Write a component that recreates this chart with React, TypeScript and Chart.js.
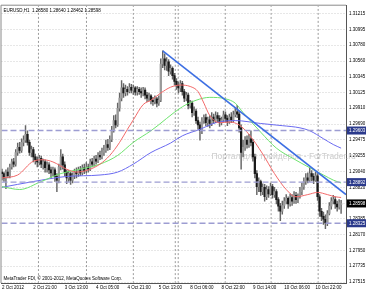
import React, { useEffect, useRef } from "react";
import { Chart, registerables } from "chart.js";

Chart.register(...registerables);

const headerText = "EURUSD,H1  1.28580 1.28640 1.28462 1.28598";
const footerText = "MetaTrader FDI, \u00a9 2001-2012, MetaQuotes Software Corp.";
const watermarkText = "Портал для трейдеров - ForTrader.ru";

const timeLabels = ["2 Oct 2012", "2 Oct 21:00", "3 Oct 13:00", "4 Oct 05:00", "4 Oct 21:00", "5 Oct 13:00", "8 Oct 06:00", "8 Oct 22:00", "9 Oct 14:00", "10 Oct 06:00", "10 Oct 22:00"];
const timeLabelBars = [0, 16, 32, 48, 64, 80, 96, 112, 128, 144, 160];

const priceTicks = [1.31215, 1.30995, 1.3078, 1.3056, 1.30345, 1.30125, 1.2991, 1.2969, 1.29475, 1.29255, 1.2904, 1.2882, 1.286, 1.28385, 1.2817, 1.2795, 1.27735, 1.27515];

const opens = [
  1.2903, 1.2901, 1.2895, 1.2903, 1.2898, 1.2910, 1.2917, 1.2914, 1.2930, 1.2937,
  1.2933, 1.2944, 1.2947, 1.2955, 1.2944, 1.2930, 1.2934, 1.2924, 1.2920, 1.2917,
  1.2922, 1.2914, 1.2917, 1.2909, 1.2913, 1.2906, 1.2902, 1.2906, 1.2897, 1.2892,
  1.2910, 1.2924, 1.2913, 1.2903, 1.2895, 1.2901, 1.2892, 1.2898, 1.2903, 1.2901,
  1.2906, 1.2902, 1.2909, 1.2905, 1.2910, 1.2907, 1.2917, 1.2914, 1.2921, 1.2918,
  1.2926, 1.2924, 1.2930, 1.2933, 1.2941, 1.2937, 1.2948, 1.2960, 1.2974, 1.2968,
  1.2991, 1.3005, 1.3019, 1.3012, 1.3017, 1.3014, 1.3020, 1.3016, 1.3019, 1.3013,
  1.3017, 1.3014, 1.3012, 1.3016, 1.3009, 1.3005, 1.3008, 1.3002, 1.3000, 1.3004,
  1.2998, 1.3002, 1.3052, 1.3059, 1.3050, 1.3055, 1.3042, 1.3046, 1.3036, 1.3028,
  1.3023, 1.3019, 1.3025, 1.3014, 1.3005, 1.3009, 1.2995, 1.2998, 1.2985, 1.2987,
  1.2974, 1.2968, 1.2960, 1.2974, 1.2978, 1.2971, 1.2975, 1.2970, 1.2979, 1.2974,
  1.2981, 1.2977, 1.2971, 1.2975, 1.2982, 1.2977, 1.2972, 1.2979, 1.2975, 1.2982,
  1.2986, 1.2983, 1.2964, 1.2930, 1.2937, 1.2947, 1.2941, 1.2949, 1.2944, 1.2924,
  1.2901, 1.2883, 1.2890, 1.2876, 1.2882, 1.2869, 1.2879, 1.2873, 1.2883, 1.2872,
  1.2876, 1.2865, 1.2856, 1.2849, 1.2857, 1.2863, 1.2867, 1.2859, 1.2868, 1.2863,
  1.2871, 1.2865, 1.2869, 1.2876, 1.2883, 1.2890, 1.2895, 1.2892, 1.2901, 1.2897,
  1.2892, 1.2898, 1.2869, 1.2849, 1.2842, 1.2838, 1.2833, 1.2846, 1.2856, 1.2863,
  1.2865, 1.2859, 1.2855, 1.2858,
];

const highs = [
  1.2907, 1.2903, 1.2906, 1.2909, 1.2914, 1.2921, 1.2922, 1.2934, 1.2943, 1.2944,
  1.2949, 1.2953, 1.2967, 1.2960, 1.2947, 1.2939, 1.2937, 1.2928, 1.2924, 1.2926,
  1.2925, 1.2921, 1.2920, 1.2917, 1.2916, 1.2910, 1.2910, 1.2909, 1.2901, 1.2914,
  1.2934, 1.2928, 1.2917, 1.2906, 1.2905, 1.2903, 1.2902, 1.2907, 1.2909, 1.2910,
  1.2911, 1.2913, 1.2914, 1.2916, 1.2914, 1.2921, 1.2922, 1.2925, 1.2926, 1.2930,
  1.2932, 1.2936, 1.2940, 1.2947, 1.2948, 1.2953, 1.2966, 1.2981, 1.2982, 1.2998,
  1.3012, 1.3029, 1.3025, 1.3023, 1.3021, 1.3025, 1.3024, 1.3023, 1.3021, 1.3021,
  1.3020, 1.3019, 1.3020, 1.3019, 1.3013, 1.3012, 1.3010, 1.3006, 1.3008, 1.3006,
  1.3008, 1.3059, 1.3070, 1.3066, 1.3061, 1.3058, 1.3051, 1.3048, 1.3039, 1.3032,
  1.3027, 1.3029, 1.3028, 1.3017, 1.3013, 1.3012, 1.3002, 1.3001, 1.2993, 1.2990,
  1.2979, 1.2972, 1.2978, 1.2982, 1.2983, 1.2979, 1.2981, 1.2985, 1.2983, 1.2986,
  1.2985, 1.2981, 1.2979, 1.2987, 1.2986, 1.2981, 1.2983, 1.2985, 1.2987, 1.2991,
  1.2995, 1.2987, 1.2968, 1.2947, 1.2952, 1.2953, 1.2955, 1.2960, 1.2948, 1.2928,
  1.2905, 1.2895, 1.2892, 1.2887, 1.2886, 1.2884, 1.2883, 1.2888, 1.2886, 1.2882,
  1.2879, 1.2868, 1.2860, 1.2863, 1.2868, 1.2872, 1.2869, 1.2873, 1.2872, 1.2876,
  1.2875, 1.2873, 1.2882, 1.2888, 1.2895, 1.2901, 1.2902, 1.2909, 1.2905, 1.2901,
  1.2903, 1.2901, 1.2872, 1.2853, 1.2848, 1.2844, 1.2850, 1.2861, 1.2868, 1.2871,
  1.2869, 1.2863, 1.2865, 1.2864,
];

const lows = [
  1.2892, 1.2890, 1.2880, 1.2895, 1.2895, 1.2907, 1.2910, 1.2911, 1.2926, 1.2929,
  1.2930, 1.2939, 1.2944, 1.2940, 1.2926, 1.2924, 1.2917, 1.2914, 1.2910, 1.2913,
  1.2909, 1.2907, 1.2903, 1.2903, 1.2901, 1.2895, 1.2898, 1.2890, 1.2876, 1.2888,
  1.2906, 1.2907, 1.2898, 1.2887, 1.2890, 1.2886, 1.2888, 1.2894, 1.2895, 1.2897,
  1.2898, 1.2899, 1.2901, 1.2902, 1.2903, 1.2905, 1.2910, 1.2911, 1.2914, 1.2916,
  1.2920, 1.2921, 1.2926, 1.2930, 1.2933, 1.2934, 1.2945, 1.2958, 1.2964, 1.2966,
  1.2987, 1.3001, 1.3006, 1.3008, 1.3009, 1.3012, 1.3012, 1.3010, 1.3009, 1.3009,
  1.3010, 1.3006, 1.3008, 1.3004, 1.3000, 1.3001, 1.2997, 1.2995, 1.2997, 1.2993,
  1.2995, 1.3000, 1.3047, 1.3044, 1.3043, 1.3036, 1.3038, 1.3031, 1.3023, 1.3017,
  1.3012, 1.3014, 1.3009, 1.3000, 1.3001, 1.2990, 1.2991, 1.2979, 1.2981, 1.2970,
  1.2962, 1.2947, 1.2956, 1.2970, 1.2967, 1.2966, 1.2964, 1.2967, 1.2970, 1.2971,
  1.2972, 1.2966, 1.2968, 1.2972, 1.2972, 1.2967, 1.2970, 1.2971, 1.2972, 1.2979,
  1.2978, 1.2958, 1.2907, 1.2924, 1.2933, 1.2936, 1.2937, 1.2939, 1.2918, 1.2895,
  1.2872, 1.2876, 1.2871, 1.2872, 1.2863, 1.2865, 1.2868, 1.2871, 1.2867, 1.2868,
  1.2859, 1.2849, 1.2836, 1.2845, 1.2853, 1.2859, 1.2853, 1.2856, 1.2857, 1.2860,
  1.2860, 1.2861, 1.2867, 1.2872, 1.2879, 1.2886, 1.2888, 1.2890, 1.2891, 1.2887,
  1.2890, 1.2864, 1.2842, 1.2836, 1.2831, 1.2825, 1.2829, 1.2844, 1.2852, 1.2859,
  1.2853, 1.2849, 1.2852, 1.28462,
];

const closes = [
  1.2901, 1.2895, 1.2903, 1.2898, 1.2910, 1.2917, 1.2914, 1.2930, 1.2937, 1.2933,
  1.2944, 1.2947, 1.2955, 1.2944, 1.2930, 1.2934, 1.2924, 1.2920, 1.2917, 1.2922,
  1.2914, 1.2917, 1.2909, 1.2913, 1.2906, 1.2902, 1.2906, 1.2897, 1.2892, 1.2910,
  1.2924, 1.2913, 1.2903, 1.2895, 1.2901, 1.2892, 1.2898, 1.2903, 1.2901, 1.2906,
  1.2902, 1.2909, 1.2905, 1.2910, 1.2907, 1.2917, 1.2914, 1.2921, 1.2918, 1.2926,
  1.2924, 1.2930, 1.2933, 1.2941, 1.2937, 1.2948, 1.2960, 1.2974, 1.2968, 1.2991,
  1.3005, 1.3019, 1.3012, 1.3017, 1.3014, 1.3020, 1.3016, 1.3019, 1.3013, 1.3017,
  1.3014, 1.3012, 1.3016, 1.3009, 1.3005, 1.3008, 1.3002, 1.3000, 1.3004, 1.2998,
  1.3002, 1.3052, 1.3059, 1.3050, 1.3055, 1.3042, 1.3046, 1.3036, 1.3028, 1.3023,
  1.3019, 1.3025, 1.3014, 1.3005, 1.3009, 1.2995, 1.2998, 1.2985, 1.2987, 1.2974,
  1.2968, 1.2960, 1.2974, 1.2978, 1.2971, 1.2975, 1.2970, 1.2979, 1.2974, 1.2981,
  1.2977, 1.2971, 1.2975, 1.2982, 1.2977, 1.2972, 1.2979, 1.2975, 1.2982, 1.2986,
  1.2983, 1.2964, 1.2930, 1.2937, 1.2947, 1.2941, 1.2949, 1.2944, 1.2924, 1.2901,
  1.2883, 1.2890, 1.2876, 1.2882, 1.2869, 1.2879, 1.2873, 1.2883, 1.2872, 1.2876,
  1.2865, 1.2856, 1.2849, 1.2857, 1.2863, 1.2867, 1.2859, 1.2868, 1.2863, 1.2871,
  1.2865, 1.2869, 1.2876, 1.2883, 1.2890, 1.2895, 1.2892, 1.2901, 1.2897, 1.2892,
  1.2898, 1.2869, 1.2849, 1.2842, 1.2838, 1.2833, 1.2846, 1.2856, 1.2863, 1.2865,
  1.2859, 1.2855, 1.2861, 1.28598,
];

const redBars = [0, 8, 16, 21, 26, 33, 38, 44, 50, 55, 60, 64, 67, 72, 76, 81, 86, 91, 96, 100, 103, 106, 111, 116, 121, 126, 133, 139, 145, 150, 156, 161, 166, 170, 173];
const redValues = [1.2895, 1.2899, 1.2918, 1.2920, 1.2917, 1.2907, 1.2903, 1.2906, 1.2914, 1.2926, 1.2944, 1.2962, 1.2975, 1.2996, 1.3002, 1.3012, 1.3020, 1.3023, 1.3021, 1.3014, 1.2998, 1.2981, 1.2971, 1.2972, 1.2968, 1.2955, 1.2928, 1.2901, 1.2879, 1.2869, 1.2872, 1.2875, 1.2872, 1.2869, 1.2868];

const greenBars = [0, 9, 20, 30, 38, 50, 59, 67, 76, 92, 99, 106, 114, 119, 123, 132, 140, 149, 157, 164, 169, 173];
const greenValues = [1.2883, 1.2879, 1.2890, 1.2901, 1.2906, 1.2914, 1.2926, 1.2944, 1.2960, 1.2993, 1.3002, 1.3006, 1.3004, 1.2998, 1.2985, 1.2958, 1.2936, 1.2921, 1.2909, 1.2899, 1.2892, 1.2888];

const blueBars = [0, 16, 33, 50, 59, 67, 76, 86, 92, 101, 109, 119, 132, 143, 152, 157, 164, 169, 173];
const blueValues = [1.2882, 1.2890, 1.2897, 1.2899, 1.2903, 1.2914, 1.2930, 1.2943, 1.2953, 1.2962, 1.2971, 1.2974, 1.2970, 1.2967, 1.2964, 1.2960, 1.2949, 1.2941, 1.2936];

const trendBars = [82, 175.5];
const trendValues = [1.3070, 1.2872];

const levelValues = [1.29603, 1.28892, 1.28325];
const lastPrice = 1.28598;
const daySeparators = [18.6, 43.1, 67, 88.4, 89.9, 113.9, 137.3, 161.3];

const X_MIN = -0.25;
const X_MAX = 175.5;
const Y_MIN = 1.275015;
const Y_MAX = 1.313234;

const FONT = '"Liberation Sans", Arial, sans-serif';

const overlayPlugin = {
  id: "mtOverlay",
  beforeDatasetsDraw(chart: any) {
    const { ctx, chartArea } = chart;
    ctx.save();
    ctx.font = `8.5px ${FONT}`;
    ctx.fillStyle = "#cdcdcd";
    ctx.textBaseline = "middle";
    ctx.textAlign = "left";
    ctx.fillText(watermarkText, chartArea.left + 210, chartArea.top + 151);
    ctx.restore();
  },
  afterDraw(chart: any) {
    const { ctx, chartArea, width } = chart;
    const y = chart.scales.y;
    ctx.save();
    // frame left/top
    ctx.strokeStyle = "#8a8a8a";
    ctx.lineWidth = 1;
    ctx.beginPath();
    ctx.moveTo(chartArea.left - 0.5, chartArea.bottom);
    ctx.lineTo(chartArea.left - 0.5, chartArea.top - 0.5);
    ctx.lineTo(chartArea.right, chartArea.top - 0.5);
    ctx.stroke();

    ctx.font = `4.5px ${FONT}`;
    ctx.textBaseline = "middle";
    ctx.textAlign = "left";
    ctx.fillStyle = "#000";
    ctx.fillText(headerText, chartArea.left + 2, chartArea.top + 5);
    ctx.fillText(footerText, chartArea.left + 2, chartArea.bottom - 4);

    const box = (v: number, bg: string) => {
      const py = y.getPixelForValue(v);
      ctx.fillStyle = bg;
      ctx.fillRect(chartArea.right + 1, py - 4, width - chartArea.right - 1, 8);
      ctx.fillStyle = "#fff";
      ctx.fillText(v.toFixed(5), chartArea.right + 3, py + 0.5);
    };
    levelValues.forEach((v) => box(v, "#2b3a8c"));
    box(lastPrice, "#000");
    ctx.restore();
  },
};

export default function App() {
  const ref = useRef<HTMLCanvasElement>(null);

  useEffect(() => {
    if (!ref.current) return;
    const wickData = highs.map((h, i) => ({ x: i, y: [lows[i], h] }));
    const bodyData = opens.map((o, i) => ({ x: i, y: [Math.min(o, closes[i]), Math.max(o, closes[i])] }));
    const bodyColors = opens.map((o, i) => (closes[i] >= o ? "#9a9a9a" : "#1a1a1a"));

    const lineSet = (bars: number[], vals: number[], color: string, order: number, extra: any = {}) => ({
      type: "line" as const,
      data: bars.map((b, i) => ({ x: b, y: vals[i] })),
      borderColor: color,
      borderWidth: 1,
      pointRadius: 0,
      tension: 0.4,
      cubicInterpolationMode: "monotone" as const,
      order,
      ...extra,
    });

    const datasets: any[] = [
      lineSet(trendBars, trendValues, "#3d6fe3", 0, { borderWidth: 1.6, tension: 0 }),
      ...levelValues.map((v) =>
        lineSet([X_MIN, X_MAX], [v, v], "#9d9dd2", 1, { borderWidth: 1.4, borderDash: [6, 3], tension: 0 })
      ),
      lineSet(redBars, redValues, "#f26a6a", 2),
      lineSet(greenBars, greenValues, "#6ee36e", 2),
      lineSet(blueBars, blueValues, "#6a6af0", 2),
      {
        type: "bar",
        data: bodyData,
        backgroundColor: bodyColors,
        barThickness: 1.6,
        minBarLength: 0.8,
        grouped: false,
        order: 3,
      },
      {
        type: "bar",
        data: wickData,
        backgroundColor: "#666",
        barThickness: 0.8,
        grouped: false,
        order: 4,
      },
      ...daySeparators.map((s) =>
        lineSet([s, s], [Y_MIN, Y_MAX], "#9a9a9a", 5, { borderDash: [2, 2], tension: 0 })
      ),
    ];

    const chart = new Chart(ref.current, {
      type: "bar",
      data: { datasets },
      plugins: [overlayPlugin],
      options: {
        animation: false,
        responsive: false,
        devicePixelRatio: 1,
        events: [],
        layout: { padding: { left: 1, top: 1, right: 0, bottom: 0 } },
        plugins: { legend: { display: false }, tooltip: { enabled: false }, title: { display: false } },
        scales: {
          x: {
            type: "linear",
            min: X_MIN,
            max: X_MAX,
            offset: false,
            grid: { display: false, drawTicks: false },
            border: { display: true, color: "#555", width: 1 },
            afterBuildTicks: (scale: any) => {
              scale.ticks = timeLabelBars.map((v) => ({ value: v }));
            },
            afterFit: (scale: any) => {
              scale.height = 10;
            },
            ticks: {
              autoSkip: false,
              maxRotation: 0,
              minRotation: 0,
              align: "start",
              padding: 2,
              color: "#000",
              font: { family: FONT, size: 4.5 },
              callback: (value: any) => {
                const idx = timeLabelBars.indexOf(Number(value));
                return idx >= 0 ? timeLabels[idx] : "";
              },
            },
          },
          y: {
            type: "linear",
            position: "right",
            min: Y_MIN,
            max: Y_MAX,
            grid: { display: true, color: "#cfcfcf", lineWidth: 1, drawTicks: false },
            border: { display: true, color: "#555", width: 1, dash: [1, 2] },
            afterBuildTicks: (scale: any) => {
              scale.ticks = priceTicks.map((v) => ({ value: v }));
            },
            afterFit: (scale: any) => {
              scale.width = 20;
            },
            ticks: {
              autoSkip: false,
              padding: 3,
              color: "#000",
              font: { family: FONT, size: 4.5 },
              callback: (value: any) => Number(value).toFixed(5),
            },
          },
        },
      } as any,
    });
    return () => chart.destroy();
  }, []);

  return (
    <div style={{ position: "fixed", left: 0, top: 0, width: 366, height: 293, background: "#fff" }}>
      <canvas ref={ref} width={366} height={293} style={{ display: "block", width: 366, height: 293 }} />
    </div>
  );
}
